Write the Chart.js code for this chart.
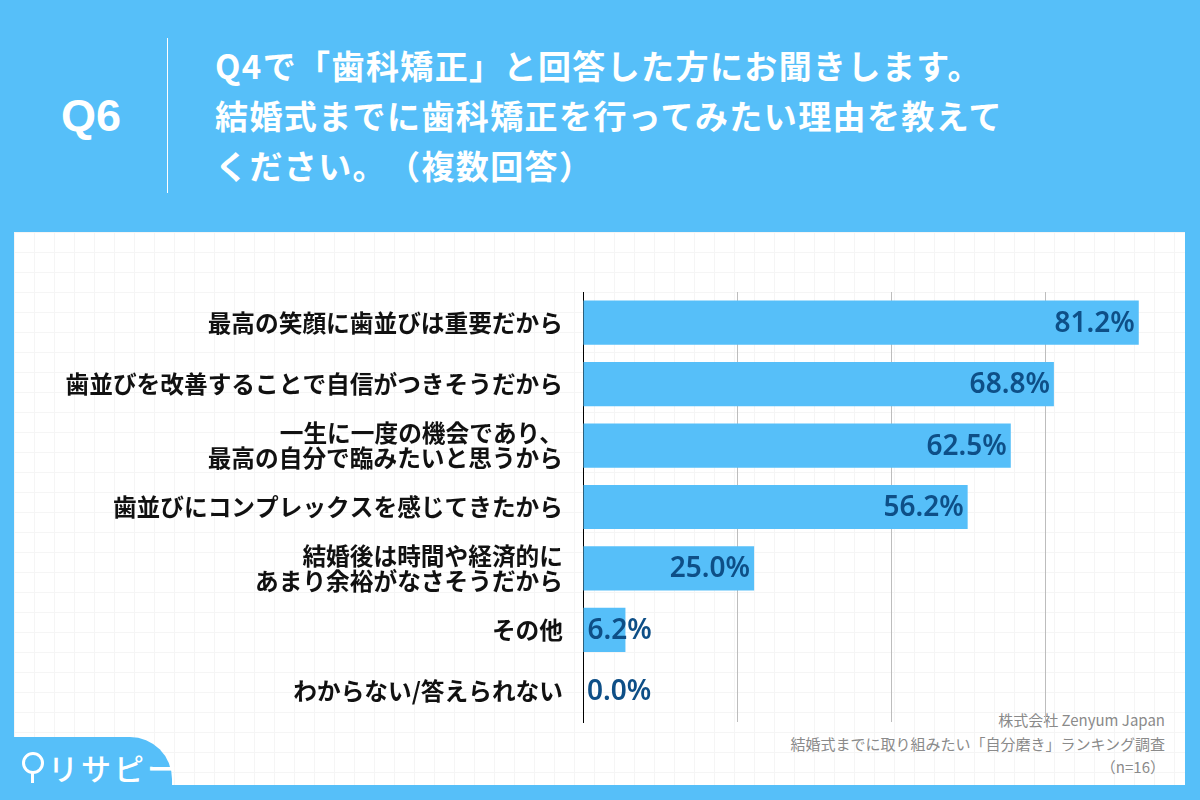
<!DOCTYPE html>
<html><head><meta charset="utf-8">
<script src="https://cdn.jsdelivr.net/npm/chart.js@4"></script>
<style>
html,body{margin:0;padding:0;}
body{width:1200px;height:800px;background:#56bff9;position:relative;overflow:hidden;font-family:"Noto Sans CJK JP","Noto Sans",sans-serif;}
#q{position:absolute;left:61px;top:90px;font:bold 45px "Liberation Sans",Arial,sans-serif;color:#fff;}
#vline{position:absolute;left:167px;top:38px;width:1px;height:155px;background:#fff;}
#title{position:absolute;left:215px;top:40px;color:#fff;font-weight:bold;font-size:33px;line-height:50px;letter-spacing:1.4px;text-spacing-trim:space-all;}
#panel{position:absolute;left:14px;top:232px;width:1171px;height:553px;background-color:#fff;
background-image:linear-gradient(#f5f5f5 1px,transparent 1px),linear-gradient(90deg,#f5f5f5 1px,transparent 1px);background-size:20px 20px;}
#tab{position:absolute;left:0;top:737px;width:172px;height:63px;background:#56bff9;border-top-right-radius:42px;}
#logo{position:absolute;left:48px;top:745px;color:#fff;font-size:30px;font-weight:500;letter-spacing:3px;}
#pin{position:absolute;left:22px;top:752px;width:16px;height:16px;border:3px solid #fff;border-radius:50%;}
#pinstem{position:absolute;left:31px;top:773px;width:3px;height:10px;background:#fff;}
#foot{position:absolute;right:35px;top:708px;text-align:right;color:#8a8a8a;font-size:15px;line-height:23.5px;text-spacing-trim:space-all;}
canvas{position:absolute;left:0;top:0;}
</style></head>
<body>
<div id="q">Q6</div>
<div id="vline"></div>
<div id="title">Q4で「歯科矯正」と回答した方にお聞きします。<br>結婚式までに歯科矯正を行ってみたい理由を教えて<br>ください。（複数回答）</div>
<div id="panel"></div>
<div id="foot">株式会社 Zenyum Japan<br>結婚式までに取り組みたい「自分磨き」ランキング調査<br>（n=16）</div>
<div id="tab"></div>
<div id="pin"></div><div id="pinstem"></div>
<div id="logo">リサピー</div>
<canvas id="c" width="1200" height="800"></canvas>
<script>
const categories = [
  "最高の笑顔に歯並びは重要だから",
  "歯並びを改善することで自信がつきそうだから",
  ["一生に一度の機会であり、","最高の自分で臨みたいと思うから"],
  "歯並びにコンプレックスを感じてきたから",
  ["結婚後は時間や経済的に","あまり余裕がなさそうだから"],
  "その他",
  "わからない/答えられない"
];
const values = [81.2, 68.8, 62.5, 56.2, 25.0, 6.2, 0.0];

const valueLabels = {
  id:'valueLabels',
  afterDatasetsDraw(chart){
    const ctx = chart.ctx;
    const meta = chart.getDatasetMeta(0);
    ctx.save();
    ctx.font = '600 28px "Noto Sans", sans-serif';
    ctx.fillStyle = '#0e4f87';
    ctx.textBaseline = 'middle';
    meta.data.forEach((bar,i)=>{
      const txt = values[i].toFixed(1) + '%';
      const w = ctx.measureText(txt).width;
      const bw = bar.x - bar.base;
      if (w + 8 < bw) { ctx.textAlign='right'; ctx.fillText(txt, bar.x - 4, bar.y + 1); }
      else { ctx.textAlign='left'; ctx.fillText(txt, bar.base + 4, bar.y + 1); }
    });
    ctx.restore();
  }
};

new Chart(document.getElementById('c'), {
  type:'bar',
  data:{labels:categories, datasets:[{data:values, backgroundColor:'#56bff9', barPercentage:0.72, categoryPercentage:1}]},
  options:{
    indexAxis:'y', responsive:false, animation:false,
    layout:{padding:{left:0,right:1,top:292,bottom:78}},
    plugins:{legend:{display:false}, tooltip:{enabled:false}},
    scales:{
      x:{min:0,max:90,ticks:{display:false,stepSize:22.5},
         grid:{drawTicks:false,color:(c)=> (c.tick && (c.tick.value===0||c.tick.value===90)) ? 'rgba(0,0,0,0)' : '#bdbdbd'},
         border:{display:false},
         afterFit:(s)=>{s.height=0;}},
      y:{grid:{display:false,drawTicks:false},border:{display:true,color:'#000',width:1},
         ticks:{padding:20,color:'#111',font:{family:'"Noto Sans CJK JP", sans-serif',weight:'bold',size:23.7,lineHeight:1.04}},
         afterFit:(s)=>{s.width=583;}}
    }
  },
  plugins:[valueLabels]
});
</script>
</body></html>
